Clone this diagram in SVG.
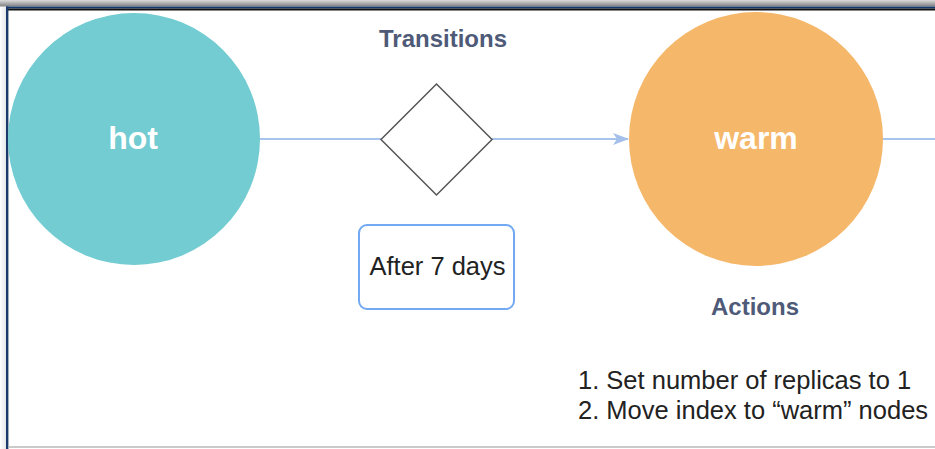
<svg xmlns="http://www.w3.org/2000/svg" width="935" height="449" viewBox="0 0 935 449">
  <defs>
    <linearGradient id="topShadow" x1="0" y1="0" x2="0" y2="1">
      <stop offset="0" stop-color="#dcdcdc"/>
      <stop offset="1" stop-color="#7f7f7f"/>
    </linearGradient>
    <linearGradient id="leftShadow" x1="0" y1="0" x2="1" y2="0">
      <stop offset="0" stop-color="#ffffff"/>
      <stop offset="1" stop-color="#e4e6ea"/>
    </linearGradient>
    <marker id="arrow" viewBox="0 0 16 12" refX="15" refY="6" markerWidth="16" markerHeight="12" markerUnits="userSpaceOnUse" orient="auto">
      <path d="M0,0 L16,6 L0,12 L4,6 Z" fill="#a3bfea"/>
    </marker>
    <style>
      .sans { font-family: "Liberation Sans", Arial, Helvetica, sans-serif; }
      .nodeLabel { font-size: 32px; font-weight: bold; fill: #ffffff; text-anchor: middle; }
      .title { font-size: 24px; font-weight: bold; fill: #4e5a78; text-anchor: middle; }
      .body { font-size: 25.5px; fill: #222222; }
      .edge { stroke: #a9c4ec; stroke-width: 2; fill: none; }
    </style>
  </defs>

  <rect x="0" y="0" width="935" height="449" fill="#ffffff"/>

  <!-- window frame -->
  <g id="frame">
    <rect x="0" y="0" width="935" height="6.5" fill="url(#topShadow)"/>
    <rect x="0" y="7" width="6" height="442" fill="url(#leftShadow)"/>
    <rect x="6" y="6.5" width="929" height="2" fill="#123a6e"/>
    <rect x="6" y="8.5" width="929" height="2" fill="#111111"/>
    <rect x="6" y="6.5" width="2.4" height="442.5" fill="#1b3a6b"/>
    <line x1="8" y1="447" x2="935" y2="447" stroke="#b8b8b8" stroke-width="1.5"/>
  </g>

  <!-- connectors -->
  <g id="connectors">
    <line class="edge" x1="259" y1="139" x2="381" y2="139"/>
    <line class="edge" x1="492" y1="139" x2="628" y2="139" marker-end="url(#arrow)"/>
    <line class="edge" x1="883" y1="139" x2="935" y2="139"/>
  </g>

  <g id="hot">
    <circle cx="134" cy="139" r="126" fill="#72ccd2"/>
    <text class="sans nodeLabel" x="133" y="149">hot</text>
  </g>

  <g id="warm">
    <circle cx="756" cy="139" r="127" fill="#f5b76a"/>
    <text class="sans nodeLabel" x="756" y="149">warm</text>
  </g>

  <g id="decision">
    <polygon points="436.5,84 492,139.5 436.5,195 381,139.5" fill="#ffffff" stroke="#555555" stroke-width="1.5"/>
  </g>

  <g id="transitions-label">
    <text class="sans title" x="443" y="47">Transitions</text>
  </g>

  <g id="condition">
    <rect x="359" y="225" width="155" height="84" rx="8" ry="8" fill="#ffffff" stroke="#72a9f2" stroke-width="2"/>
    <text class="sans body" x="437.5" y="275" text-anchor="middle">After 7 days</text>
  </g>

  <g id="actions-label">
    <text class="sans title" x="755" y="315">Actions</text>
  </g>

  <g id="actions-list">
    <text class="sans body" x="578" y="389">1. Set number of replicas to 1</text>
    <text class="sans body" x="578" y="419">2. Move index to “warm” nodes</text>
  </g>
</svg>
